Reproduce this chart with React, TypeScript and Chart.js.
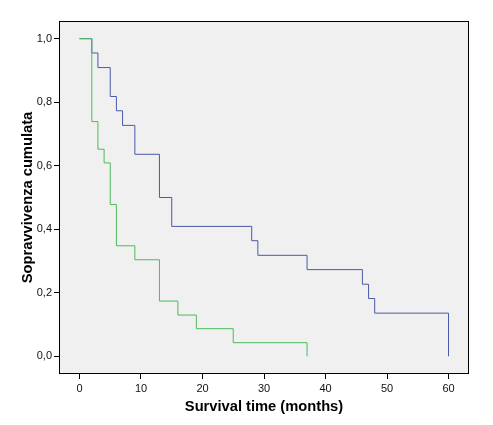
import React, { useEffect, useRef } from 'react';
import { Chart, registerables } from 'chart.js';

Chart.register(...registerables);

// Kaplan-Meier estimates
const blueTimes = [0, 2, 3, 5, 6, 7, 9, 13, 15, 28, 29, 37, 46, 47, 48, 60];
const blueSurvival = [1.0, 0.955, 0.909, 0.818, 0.773, 0.727, 0.636, 0.5, 0.409, 0.364, 0.318, 0.273, 0.227, 0.182, 0.136, 0.0];

const greenTimes = [0, 2, 3, 4, 5, 6, 9, 13, 16, 19, 25, 37];
const greenSurvival = [1.0, 0.739, 0.652, 0.609, 0.478, 0.348, 0.304, 0.174, 0.13, 0.087, 0.043, 0.0];

const xTicks = [0, 10, 20, 30, 40, 50, 60];
const yTicks = [0, 0.2, 0.4, 0.6, 0.8, 1.0];

const xTitle = 'Survival time (months)';
const yTitle = 'Sopravvivenza cumulata';

const plotFrame = {
  id: 'plotFrame',
  beforeDatasetsDraw(chart: any) {
    const { ctx, chartArea: a } = chart;
    ctx.save();
    ctx.fillStyle = '#f0f0f0';
    ctx.fillRect(a.left, a.top, a.right - a.left, a.bottom - a.top);
    ctx.restore();
  },
  afterDatasetsDraw(chart: any) {
    const { ctx, chartArea: a } = chart;
    ctx.save();
    ctx.strokeStyle = '#000';
    ctx.lineWidth = 1;
    ctx.strokeRect(a.left + 0.5, a.top + 0.5, a.right - a.left - 1, a.bottom - a.top - 1);
    ctx.restore();
  },
};

export default function App() {
  const ref = useRef<HTMLCanvasElement>(null);

  useEffect(() => {
    if (!ref.current) return;
    const chart = new Chart(ref.current, {
      type: 'line',
      data: {
        datasets: [
          {
            label: 'Gruppo 2',
            data: greenTimes.map((t, i) => ({ x: t, y: greenSurvival[i] })),
            borderColor: '#4cbb5c',
            borderWidth: 1,
            pointRadius: 0,
            stepped: true,
            fill: false,
          },
          {
            label: 'Gruppo 1',
            data: blueTimes.map((t, i) => ({ x: t, y: blueSurvival[i] })),
            borderColor: '#4a5aa8',
            borderWidth: 1,
            pointRadius: 0,
            stepped: true,
            fill: false,
          },
        ],
      },
      options: {
        responsive: false,
        animation: false,
        layout: { padding: { top: 21, right: 24, left: 0, bottom: 0 } },
        plugins: {
          legend: { display: false },
          tooltip: { enabled: false },
        },
        scales: {
          x: {
            type: 'linear',
            min: -3.333,
            max: 63.333,
            afterBuildTicks: (scale: any) => {
              scale.ticks = xTicks.map((v) => ({ value: v }));
            },
            afterFit: (scale: any) => {
              scale.height = 51;
            },
            grid: { drawOnChartArea: false, drawTicks: true, tickLength: 5, color: '#000' },
            border: { display: false },
            ticks: {
              padding: 3,
              color: '#111',
              font: { family: 'Liberation Sans, Arial, sans-serif', size: 11 },
              maxRotation: 0,
              callback: (v: any) => String(v),
            },
            title: {
              display: true,
              text: xTitle,
              color: '#000',
              padding: { top: 4, bottom: 9 },
              font: { family: 'Liberation Sans, Arial, sans-serif', size: 14.7, weight: 'bold' },
            },
          },
          y: {
            type: 'linear',
            min: -0.0556,
            max: 1.0556,
            afterBuildTicks: (scale: any) => {
              scale.ticks = yTicks.map((v) => ({ value: v }));
            },
            afterFit: (scale: any) => {
              scale.width = 59;
            },
            grid: { drawOnChartArea: false, drawTicks: true, tickLength: 5, color: '#000' },
            border: { display: false },
            ticks: {
              padding: 2,
              color: '#111',
              font: { family: 'Liberation Sans, Arial, sans-serif', size: 11 },
              callback: (v: any) => Number(v).toFixed(1).replace('.', ','),
            },
            title: {
              display: true,
              text: yTitle,
              color: '#000',
              padding: { top: 19, bottom: 0 },
              font: { family: 'Liberation Sans, Arial, sans-serif', size: 14.7, weight: 'bold' },
            },
          },
        },
      },
      plugins: [plotFrame],
    });
    return () => chart.destroy();
  }, []);

  return (
    <div style={{ position: 'absolute', left: 0, top: 0, width: 493, height: 425, background: '#fff' }}>
      <canvas ref={ref} width={493} height={425} />
    </div>
  );
}
